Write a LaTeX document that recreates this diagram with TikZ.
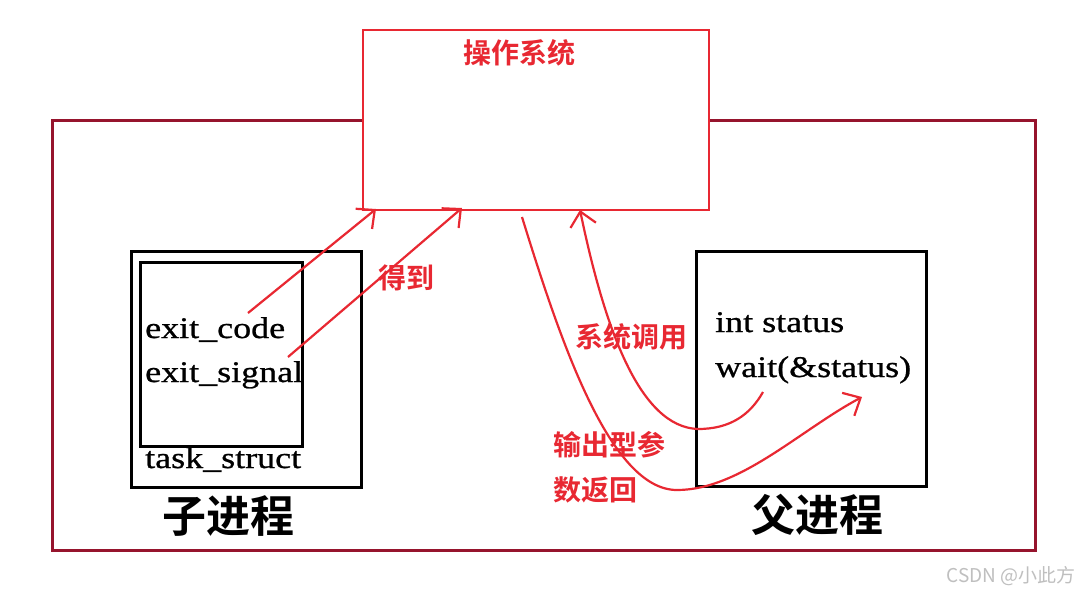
\documentclass[tikz,border=0pt]{standalone}
\usepackage{fontspec}
\setmainfont{Liberation Serif}[FakeStretch=1.2,FakeBold=0.8]
\newfontfamily\cjk{Noto Sans CJK SC}[BoldFont={Noto Sans CJK SC Bold}]
\usetikzlibrary{arrows.meta,calc}
\definecolor{osred}{RGB}{232,40,50}
\definecolor{maroon}{RGB}{150,20,45}
\begin{document}
\begin{tikzpicture}[x=1pt,y=-1pt,
  blackbox/.style={draw=black, line width=3pt, inner sep=0pt},
  rtext/.style={text=osred, font=\cjk\bfseries\fontsize{28}{30}\selectfont, inner sep=0pt},
  code/.style={font=\fontsize{30}{32}\selectfont, inner sep=0pt, anchor=base west},
  ptitle/.style={font=\cjk\bfseries\fontsize{44}{46}\selectfont, inner sep=0pt},
  arr/.style={draw=osred, line width=2.2pt, -{Straight Barb[length=14pt,width=26pt,line width=2.2pt]}}]
\useasboundingbox (0,0) rectangle (1080,595);
\fill[white] (0,0) rectangle (1080,595);
% outer frame
\node[draw=maroon, line width=3pt, minimum width=983pt, minimum height=430pt, inner sep=0pt] (outer) at (543.5,335) {};
% operating system box
\node[draw=osred, fill=white, line width=2.5pt, minimum width=346pt, minimum height=180pt, inner sep=0pt] (os) at (536,120) {};
\node[rtext] (oslabel) at (519,53) {操作系统};
% child process
\node[blackbox, minimum width=230pt, minimum height=236pt] (child) at (246,369) {};
\node[blackbox, minimum width=162pt, minimum height=184pt] (inner) at (221,354) {};
\node[code] (ecode) at (145,338) {exit\_code};
\node[code] (esig) at (145,382) {exit\_signal};
\node[code] (task) at (145,468) {task\_struct};
\node[ptitle] (childt) at (228,516) {子进程};
% parent process
\node[blackbox, minimum width=230pt, minimum height=235pt] (parent) at (811,368.5) {};
\node[code] (istat) at (715,332) {int status};
\node[code] (wait) at (715,377) {wait(\&status)};
\node[ptitle] (parentt) at (817,515) {父进程};
% labels
\node[rtext] (get) at (406,278) {得到};
\node[rtext] (syscall) at (631,337) {系统调用};
\node[rtext, anchor=west] (out1) at (553,445) {输出型参};
\node[rtext, anchor=west] (out2) at (553,490) {数返回};
% connector end points
\coordinate (a1s) at (248,313);
\coordinate (a1e) at (376,209);
\coordinate (a2s) at (288,357);
\coordinate (a2e) at (462,208);
\coordinate (s0) at (763,392);
\coordinate (s1) at (698,429);
\coordinate (s2) at (580,210);
\coordinate (o0) at (522,217);
\coordinate (o1) at (677,490);
\coordinate (o2) at (862,397);
% arrows
\draw[arr] (a1s) -- (a1e);
\draw[arr] (a2s) -- (a2e);
\draw[arr] (s0) .. controls (750,415) and (730,429) .. (s1) .. controls (640,427) and (605,330) .. (s2);
\draw[arr] (o0) .. controls (560,340) and (610,490) .. (o1) .. controls (740,490) and (800,430) .. (o2);
% watermark
\node[text=black!25, font=\cjk\fontsize{19}{20}\selectfont, inner sep=0pt, anchor=east] (wm) at (1076,576) {CSDN @小此方};
\end{tikzpicture}
\end{document}
